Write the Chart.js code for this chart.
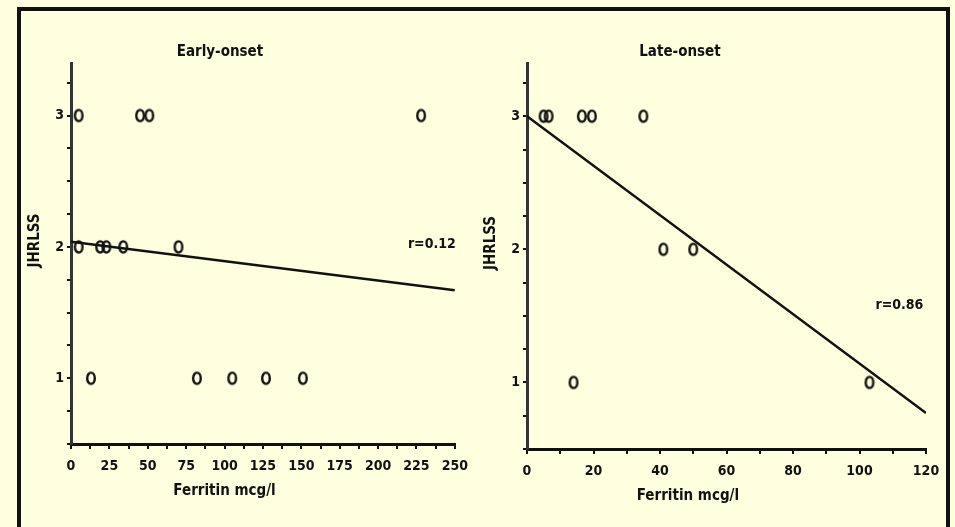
<!DOCTYPE html>
<html>
<head>
<meta charset="utf-8">
<script src="https://cdn.jsdelivr.net/npm/chart.js@4/dist/chart.umd.min.js"></script>
<style>
  html, body { margin: 0; padding: 0; background: #ffffe0; overflow: hidden; }
  #frame { position: absolute; left: 17px; top: 7px; width: 933px; height: 600px; border: 4px solid #111; box-sizing: border-box; }
  canvas { position: absolute; top: 0; }
  #early { left: 0; }
  #late { left: 477px; }
</style>
</head>
<body>
<div id="frame"></div>
<canvas id="early" width="477" height="527"></canvas>
<canvas id="late" width="478" height="527"></canvas>
<script>
// Early-onset: ferritin (mcg/l) vs JHRLSS
const earlyFerritin = [5, 45, 51, 228, 5, 19, 23, 34, 70, 13, 82, 105, 127, 151];
const earlyScore = [3, 3, 3, 3, 2, 2, 2, 2, 2, 1, 1, 1, 1, 1];
const earlyFitX = [0, 250];
const earlyFitY = [2.04, 1.67];

// Late-onset
const lateFerritin = [5, 6.5, 16.5, 19.5, 35, 41, 50, 14, 103];
const lateScore = [3, 3, 3, 3, 3, 2, 2, 1, 1];
const lateFitX = [0, 120];
const lateFitY = [3.0, 0.77];

const FONT = "'Liberation Sans Narrow', 'DejaVu Sans Condensed', 'Liberation Sans', Arial, sans-serif";
const INK = "#111";

// hollow "0"-like marker
function ring() {
  const c = document.createElement("canvas");
  c.width = 12;
  c.height = 16;
  const g = c.getContext("2d");
  g.strokeStyle = INK;
  g.lineWidth = 2.4;
  g.beginPath();
  g.ellipse(6, 8, 3.8, 5.6, 0, 0, Math.PI * 2);
  g.stroke();
  return c;
}
const marker = ring();

const zip = (xs, ys) => xs.map((x, i) => ({ x: x, y: ys[i] }));

const notes = {
  id: "notes",
  afterDraw(chart, args, o) {
    const { ctx, chartArea: a, scales } = chart;
    const x = scales.x, y = scales.y;
    ctx.save();
    ctx.fillStyle = INK;
    ctx.textAlign = "center";
    ctx.textBaseline = "middle";
    ctx.font = "bold 15px " + FONT;
    ctx.fillText(o.title, x.getPixelForValue(o.titleAt), a.top - 11);
    ctx.fillText("Ferritin mcg/l", x.getPixelForValue(o.xTitleAt), a.bottom + 47);
    ctx.font = "bold 14px " + FONT;
    ctx.fillText(o.r, x.getPixelForValue(o.rAt[0]), y.getPixelForValue(o.rAt[1]));
    ctx.font = "bold 15px " + FONT;
    ctx.translate(a.left - 36, (a.top + a.bottom) / 2 - 13);
    ctx.rotate(-Math.PI / 2);
    ctx.fillText("JHRLSS", 0, 0);
    ctx.restore();
  },
};

function makeChart(id, cfg) {
  return new Chart(document.getElementById(id), {
    type: "scatter",
    data: {
      datasets: [
        {
          data: zip(cfg.fitX, cfg.fitY),
          showLine: true,
          borderColor: INK,
          borderWidth: 2.5,
          pointRadius: 0,
        },
        {
          data: zip(cfg.xs, cfg.ys),
          pointStyle: marker,
          pointRadius: 6,
        },
      ],
    },
    options: {
      responsive: false,
      animation: false,
      events: [],
      layout: { padding: { left: 0, top: 63, right: cfg.padRight, bottom: 0 } },
      plugins: {
        legend: { display: false },
        tooltip: { enabled: false },
        notes: cfg.notes,
      },
      scales: {
        x: {
          type: "linear",
          min: 0,
          max: cfg.xMax,
          border: { color: INK, width: 3 },
          grid: { drawOnChartArea: false, drawTicks: true, tickLength: 5, color: INK, lineWidth: 2 },
          ticks: {
            stepSize: cfg.xStep,
            autoSkip: false,
            maxRotation: 0,
            padding: 9,
            color: INK,
            font: { family: FONT, size: 14, weight: "bold" },
            callback: (v) => (v % cfg.xLabelStep === 0 ? v : ""),
          },
          afterFit: (s) => { s.height = cfg.xHeight; },
        },
        y: {
          min: 0.5,
          max: 3.4,
          border: { color: "#333", width: 3 },
          grid: { drawOnChartArea: false, drawTicks: true, tickLength: 4, color: INK, lineWidth: 2 },
          ticks: {
            stepSize: 0.25,
            includeBounds: false,
            autoSkip: false,
            padding: 3,
            color: INK,
            font: { family: FONT, size: 14, weight: "bold" },
            callback: (v) => (Number.isInteger(v) ? v : ""),
          },
          afterFit: (s) => { s.width = cfg.yWidth; },
        },
      },
    },
    plugins: [notes],
  });
}

makeChart("early", {
  xs: earlyFerritin,
  ys: earlyScore,
  fitX: earlyFitX,
  fitY: earlyFitY,
  xMax: 250,
  xStep: 12.5,
  xLabelStep: 25,
  yWidth: 71,
  xHeight: 83,
  padRight: 22,
  notes: { title: "Early-onset", titleAt: 97, xTitleAt: 100, r: "r=0.12", rAt: [235, 2.02] },
});

makeChart("late", {
  xs: lateFerritin,
  ys: lateScore,
  fitX: lateFitX,
  fitY: lateFitY,
  xMax: 120,
  xStep: 10,
  xLabelStep: 20,
  yWidth: 50,
  xHeight: 78,
  padRight: 29,
  notes: { title: "Late-onset", titleAt: 46, xTitleAt: 48.4, r: "r=0.86", rAt: [112, 1.58] },
});
</script>
</body>
</html>
